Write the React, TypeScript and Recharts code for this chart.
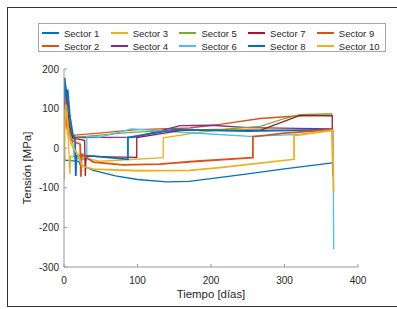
import React from 'react'
import { LineChart, Line, XAxis, YAxis } from 'recharts'

const sectorNames = [
  'Sector 1', 'Sector 2', 'Sector 3', 'Sector 4', 'Sector 5',
  'Sector 6', 'Sector 7', 'Sector 8', 'Sector 9', 'Sector 10',
]
const sectorColors = [
  '#0072BD', '#D95319', '#EDB120', '#7E2F8E', '#77AC30',
  '#4DBEEE', '#A2142F', '#0072BD', '#D95319', '#EDB120',
]
const sectorWidths = [1.3, 1.3, 1.3, 1.3, 1.3, 1.3, 1.3, 1.8, 1.8, 1.8]

// [día, tensión MPa]
const sector1 = [[0, 40], [1, -30], [20, -33], [22, -42], [40, -56], [70, -70], [100, -79], [140, -85], [170, -84], [200, -77], [250, -65], [300, -52], [365, -37]]
const sector2 = [[0, 60], [2, 95], [4, 70], [7, 40], [10, 30], [15, 33], [40, 37], [76, 43], [100, 47], [171, 51], [212, 60], [267, 75], [321, 82], [365, 83]]
const sector3 = [[0, 50], [1, 110], [3, 60], [6, 20], [8, -65], [9, -20], [20, -22], [50, -33], [135, -24], [135, 26], [180, 39], [220, 48], [280, 46], [365, 45]]
const sector4 = [[0, 80], [2, 140], [5, 90], [9, 40], [13, 28], [17, 27], [97, 28], [158, 57], [200, 58], [250, 52], [365, 49]]
const sector5 = [[0, 60], [2, 120], [5, 70], [9, 35], [12, 28], [30, 30], [90, 40], [150, 45], [220, 48], [267, 55], [300, 75], [321, 85], [365, 87]]
const sector6 = [[0, 90], [3, 150], [5, 120], [8, 60], [11, 30], [14, -25], [31, -29], [31, 29], [49, 28], [92, 49], [171, 39], [253, 30], [321, 35], [366, 45], [367, -255]]
const sector7 = [[0, 100], [2, 160], [4, 120], [7, 60], [12, 25], [28, 20], [29, -70], [30, -20], [60, -22], [99, -23], [99, 27], [160, 45], [267, 45], [321, 83], [365, 82], [365, 45]]
const sector8 = [[0, 120], [1, 178], [3, 130], [5, 148], [8, 80], [12, 35], [15, 25], [16, -70], [17, -18], [40, -20], [87, -28], [87, 27], [150, 47], [250, 43], [365, 47]]
const sector9 = [[0, 40], [2, 80], [5, 50], [10, 20], [22, 10], [23, -72], [24, -15], [40, -35], [80, -42], [130, -40], [180, -33], [257, -24], [257, 29], [300, 38], [365, 47], [366, -68]]
const sector10 = [[0, -80], [1, 60], [3, 110], [6, 40], [10, 10], [20, -20], [25, -45], [40, -53], [100, -57], [171, -56], [212, -49], [313, -28], [313, 32], [365, 45], [367, -112]]

const xTicks = [0, 100, 200, 300, 400]
const yTicks = [-300, -200, -100, 0, 100, 200]

const series = [sector1, sector2, sector3, sector4, sector5, sector6, sector7, sector8, sector9, sector10].map(
  (pts) => pts.map(([t, v]) => ({ t, v }))
)

const boxColor = '#999'
const textColor = '#262626'
const font = '"Liberation Sans", Arial, sans-serif'

function BottomTick({ x, y, payload }: any) {
  return (
    <g>
      <line x1={x} x2={x} y1={y} y2={y - 3} stroke={boxColor} />
      <text x={x} y={y + 13} textAnchor="middle" dominantBaseline="central" fontSize={10} fill={textColor} fontFamily={font}>
        {payload.value}
      </text>
    </g>
  )
}

function TopTick({ x, y }: any) {
  return <line x1={x} x2={x} y1={y} y2={y + 3} stroke={boxColor} />
}

function LeftTick({ x, y, payload }: any) {
  return (
    <g>
      <line x1={x} x2={x + 3} y1={y} y2={y} stroke={boxColor} />
      <text x={x - 5} y={y} textAnchor="end" dominantBaseline="central" fontSize={10} fill={textColor} fontFamily={font}>
        {payload.value}
      </text>
    </g>
  )
}

function RightTick({ x, y }: any) {
  return <line x1={x} x2={x - 3} y1={y} y2={y} stroke={boxColor} />
}

function ChartLegend() {
  return (
    <div
      style={{
        position: 'absolute', left: 38, top: 23, width: 346, height: 27,
        border: '1px solid #a6a6a6', background: '#fff', fontFamily: font, fontSize: 9.5, color: textColor,
      }}
    >
      {sectorNames.map((name, i) => {
        const col = Math.floor(i / 2)
        const row = i % 2
        return (
          <div
            key={name}
            style={{
              position: 'absolute', left: 3 + col * 68.7, top: row === 0 ? 3 : 16,
              height: 12, display: 'flex', alignItems: 'center', whiteSpace: 'nowrap',
            }}
          >
            <span style={{ display: 'inline-block', width: 17, height: sectorWidths[i] > 1.5 ? 2 : 1.5, background: sectorColors[i], marginRight: 5 }} />
            <span>{name}</span>
          </div>
        )
      })}
    </div>
  )
}

export default function App() {
  return (
    <div style={{ position: 'absolute', left: 0, top: 0, width: 397, height: 309, overflow: 'hidden', background: '#fff' }}>
      <div style={{ position: 'absolute', left: 7, top: 7, width: 420, height: 298, border: '1.5px solid #333' }} />
      <LineChart width={397} height={309} margin={{ top: 69, right: 39, bottom: 0, left: 0 }}>
        <XAxis
          xAxisId="bottom"
          dataKey="t"
          type="number"
          domain={[0, 400]}
          ticks={xTicks}
          interval={0}
          height={42}
          tickSize={0}
          tickMargin={0}
          tickLine={false}
          axisLine={{ stroke: boxColor }}
          tick={<BottomTick />}
          allowDataOverflow
          label={{
            content: () => (
              <text x={211} y={294} textAnchor="middle" dominantBaseline="central" fontSize={11.4} fill={textColor} fontFamily={font}>
                Tiempo [días]
              </text>
            ),
          }}
        />
        <XAxis
          xAxisId="top"
          orientation="top"
          dataKey="t"
          type="number"
          domain={[0, 400]}
          ticks={xTicks}
          interval={0}
          height={0}
          tickSize={0}
          tickMargin={0}
          tickLine={false}
          axisLine={{ stroke: boxColor }}
          tick={<TopTick />}
          allowDataOverflow
        />
        <YAxis
          yAxisId="left"
          type="number"
          domain={[-300, 200]}
          ticks={yTicks}
          interval={0}
          width={64}
          tickSize={0}
          tickMargin={0}
          tickLine={false}
          axisLine={{ stroke: boxColor }}
          tick={<LeftTick />}
          allowDataOverflow
          label={{
            content: () => (
              <text x={27} y={168} transform="rotate(-90 27 168)" textAnchor="middle" dominantBaseline="central" fontSize={11.5} fill={textColor} fontFamily={font}>
                Tensión [MPa]
              </text>
            ),
          }}
        />
        <YAxis
          yAxisId="right"
          orientation="right"
          type="number"
          domain={[-300, 200]}
          ticks={yTicks}
          interval={0}
          width={0}
          tickSize={0}
          tickMargin={0}
          tickLine={false}
          axisLine={{ stroke: boxColor }}
          tick={<RightTick />}
          allowDataOverflow
        />
        {series.map((data, i) => (
          <Line
            key={sectorNames[i]}
            name={sectorNames[i]}
            data={data}
            dataKey="v"
            xAxisId="bottom"
            yAxisId="left"
            type="linear"
            stroke={sectorColors[i]}
            strokeWidth={sectorWidths[i]}
            dot={false}
            activeDot={false}
            isAnimationActive={false}
          />
        ))}
      </LineChart>
      <ChartLegend />
    </div>
  )
}
